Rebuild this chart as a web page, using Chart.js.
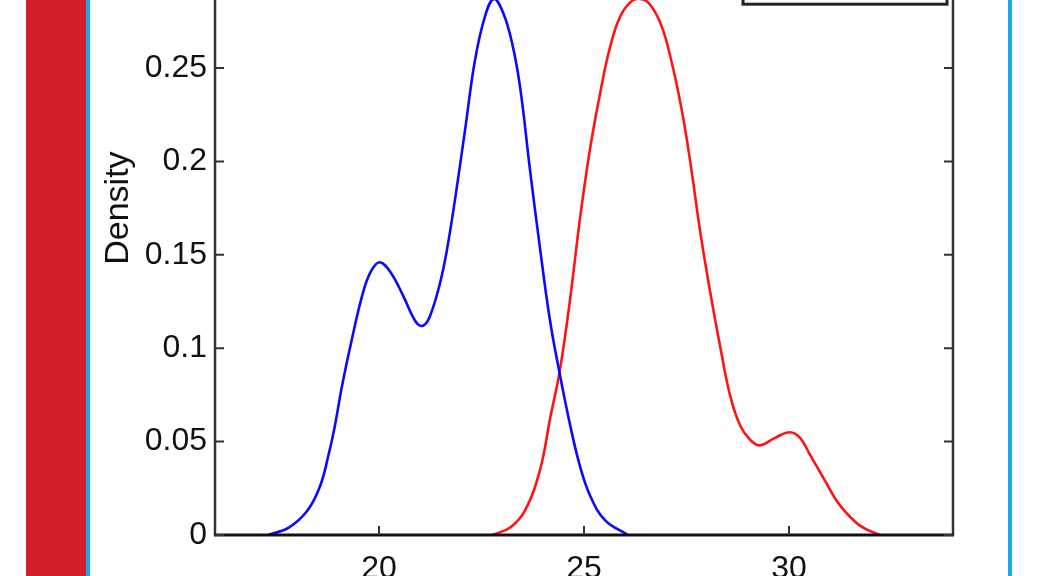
<!DOCTYPE html>
<html>
<head>
<meta charset="utf-8">
<script src="https://cdn.jsdelivr.net/npm/chart.js@4.4.1/dist/chart.umd.min.js"></script>
<style>
  html, body { margin: 0; padding: 0; background: #ffffff; }
  body { width: 1038px; height: 576px; overflow: hidden; position: relative; }
  #redbar { position: absolute; left: 26px; top: 0; width: 60px; height: 576px; background: #d2202b; }
  #cyanL { position: absolute; left: 86px; top: 0; width: 4px; height: 576px; background: #1aa9e8; }
  #cyanR { position: absolute; left: 1008px; top: 0; width: 4px; height: 576px; background: #1aa9e8; }
  #wrap { position: absolute; left: 0; top: -146px; width: 1038px; height: 766px; }
</style>
</head>
<body>
<div id="redbar"></div>
<div id="cyanL"></div>
<div id="cyanR"></div>
<div id="wrap"><canvas id="c" width="1038" height="766"></canvas></div>
<script>
// ---- data ----
const blueX = [17.3, 17.8, 18.25, 18.56, 18.76, 18.92, 19.1, 19.35, 19.6, 19.8, 20.02, 20.3, 20.59, 20.9, 21.07, 21.24, 21.49, 21.66, 21.85, 22.10, 22.34, 22.59, 22.80, 23.02, 23.24, 23.44, 23.68, 23.93, 24.17, 24.41, 24.66, 24.90, 25.15, 25.51, 26.07];
const blueY = [0, 0.004, 0.013, 0.026, 0.042, 0.058, 0.080, 0.106, 0.129, 0.141, 0.146, 0.140, 0.128, 0.114, 0.112, 0.117, 0.135, 0.153, 0.179, 0.217, 0.254, 0.278, 0.287, 0.280, 0.264, 0.240, 0.196, 0.153, 0.115, 0.086, 0.059, 0.037, 0.021, 0.008, 0];
const redX = [22.76, 23.20, 23.56, 23.93, 24.17, 24.41, 24.66, 24.90, 25.15, 25.39, 25.6, 25.85, 26.12, 26.37, 26.61, 26.9, 27.15, 27.38, 27.59, 27.83, 28.07, 28.32, 28.56, 28.80, 29.05, 29.29, 29.66, 30.02, 30.27, 30.51, 30.88, 31.24, 31.73, 32.22];
const redY = [0, 0.004, 0.013, 0.035, 0.062, 0.088, 0.126, 0.169, 0.207, 0.236, 0.258, 0.276, 0.285, 0.287, 0.284, 0.272, 0.252, 0.228, 0.200, 0.163, 0.131, 0.101, 0.075, 0.059, 0.051, 0.048, 0.052, 0.055, 0.052, 0.043, 0.029, 0.016, 0.005, 0];
const xTickValues = [20, 25, 30];
const xRange = [16, 34];
const yRange = [0, 0.35];
const yStep = 0.05;
const yTitle = 'Density';

const toPts = (xs, ys) => xs.map((x, i) => ({ x: x, y: ys[i] }));

const frame = {
  id: 'frame',
  afterDatasetsDraw(chart) {
    const ctx = chart.ctx;
    const a = chart.chartArea;
    const xs = chart.scales.x, ys = chart.scales.y;
    ctx.save();
    // legend box (top right, mostly outside view)
    ctx.strokeStyle = '#222';
    ctx.lineWidth = 3;
    ctx.fillStyle = '#fff';
    ctx.fillRect(a.right - 210, a.top + 6, 204, 117);
    ctx.strokeRect(a.right - 210, a.top + 6, 204, 117);
    // axes box
    ctx.strokeStyle = '#333';
    ctx.lineWidth = 2.5;
    ctx.beginPath();
    ctx.moveTo(a.left, a.top); ctx.lineTo(a.left, a.bottom);
    ctx.moveTo(a.right, a.top); ctx.lineTo(a.right, a.bottom);
    ctx.moveTo(a.left, a.top); ctx.lineTo(a.right, a.top);
    ctx.stroke();
    ctx.strokeStyle = '#111';
    ctx.lineWidth = 3;
    ctx.beginPath();
    ctx.moveTo(a.left - 1, a.bottom); ctx.lineTo(a.right + 1, a.bottom);
    ctx.stroke();
    // inward ticks
    ctx.strokeStyle = '#333';
    ctx.lineWidth = 2;
    ctx.beginPath();
    ys.ticks.forEach(t => {
      const p = ys.getPixelForValue(t.value);
      ctx.moveTo(a.left, p); ctx.lineTo(a.left + 9, p);
      ctx.moveTo(a.right, p); ctx.lineTo(a.right - 9, p);
    });
    xs.ticks.forEach(t => {
      const p = xs.getPixelForValue(t.value);
      ctx.moveTo(p, a.bottom); ctx.lineTo(p, a.bottom - 9);
      ctx.moveTo(p, a.top); ctx.lineTo(p, a.top + 9);
    });
    ctx.stroke();
    ctx.restore();
  }
};

new Chart(document.getElementById('c'), {
  type: 'line',
  data: {
    datasets: [
      { data: toPts(blueX, blueY), borderColor: '#0a0aff', borderWidth: 2.6, pointRadius: 0, fill: false, tension: 0.4 },
      { data: toPts(redX, redY), borderColor: '#ff1414', borderWidth: 2.6, pointRadius: 0, fill: false, tension: 0.4 }
    ]
  },
  options: {
    responsive: false,
    animation: false,
    devicePixelRatio: 1,
    layout: { padding: { top: 21, right: 85, left: 0, bottom: 0 } },
    plugins: { legend: { display: false }, tooltip: { enabled: false } },
    scales: {
      x: {
        type: 'linear', min: xRange[0], max: xRange[1],
        afterBuildTicks: s => { s.ticks = xTickValues.map(v => ({ value: v })); },
        afterFit: s => { s.height = 85; },
        grid: { display: false, drawTicks: false },
        border: { display: false },
        ticks: { padding: 15, color: '#111', font: { family: 'Liberation Sans, Arial, sans-serif', size: 32 } }
      },
      y: {
        min: yRange[0], max: yRange[1],
        afterFit: s => { s.width = 215; },
        grid: { display: false, drawTicks: false },
        border: { display: false },
        ticks: { stepSize: yStep, padding: 8, color: '#111',
          font: { family: 'Liberation Sans, Arial, sans-serif', size: 32 },
          callback: v => String(+Number(v).toFixed(2)) },
        title: { display: true, text: yTitle, color: '#111', padding: { top: 98, bottom: 0 },
          font: { family: 'Liberation Sans, Arial, sans-serif', size: 34 } }
      }
    }
  },
  plugins: [frame]
});
</script>
</body>
</html>
